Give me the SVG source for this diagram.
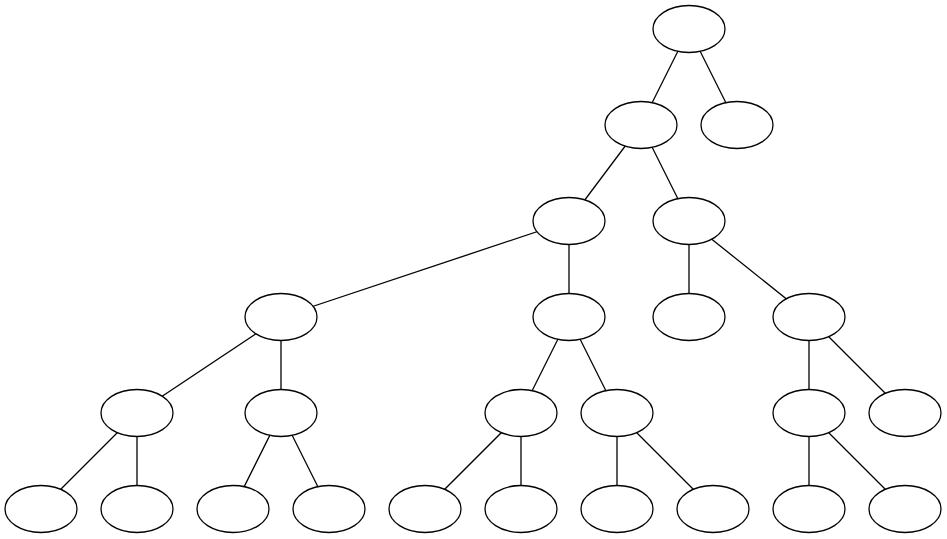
<svg xmlns="http://www.w3.org/2000/svg" width="947" height="539" viewBox="0 0 947 539">
<style>
.e{stroke:#000;stroke-width:1.3;fill:none}
.n{fill:#fff;stroke:#000;stroke-width:1.3}
</style>
<rect width="947" height="539" fill="#fff"/>
<g id="connectors">
<line class="e" x1="689" y1="29" x2="641" y2="125"/>
<line class="e" x1="689" y1="29" x2="737" y2="125"/>
<line class="e" x1="641" y1="125" x2="569" y2="221"/>
<line class="e" x1="641" y1="125" x2="689" y2="221"/>
<line class="e" x1="569" y1="221" x2="281" y2="317"/>
<line class="e" x1="569" y1="221" x2="569" y2="317"/>
<line class="e" x1="689" y1="221" x2="689" y2="317"/>
<line class="e" x1="689" y1="221" x2="809" y2="317"/>
<line class="e" x1="281" y1="317" x2="137" y2="413"/>
<line class="e" x1="281" y1="317" x2="281" y2="413"/>
<line class="e" x1="569" y1="317" x2="521" y2="413"/>
<line class="e" x1="569" y1="317" x2="617" y2="413"/>
<line class="e" x1="809" y1="317" x2="809" y2="413"/>
<line class="e" x1="809" y1="317" x2="905" y2="413"/>
<line class="e" x1="137" y1="413" x2="41" y2="509"/>
<line class="e" x1="137" y1="413" x2="137" y2="509"/>
<line class="e" x1="281" y1="413" x2="233" y2="509"/>
<line class="e" x1="281" y1="413" x2="329" y2="509"/>
<line class="e" x1="521" y1="413" x2="425" y2="509"/>
<line class="e" x1="521" y1="413" x2="521" y2="509"/>
<line class="e" x1="617" y1="413" x2="617" y2="509"/>
<line class="e" x1="617" y1="413" x2="713" y2="509"/>
<line class="e" x1="809" y1="413" x2="809" y2="509"/>
<line class="e" x1="809" y1="413" x2="905" y2="509"/>
</g>
<g id="n0"><ellipse class="n" cx="689" cy="29" rx="36" ry="23.5"/></g>
<g id="n1"><ellipse class="n" cx="641" cy="125" rx="36" ry="23.5"/></g>
<g id="n2"><ellipse class="n" cx="737" cy="125" rx="36" ry="23.5"/></g>
<g id="n3"><ellipse class="n" cx="569" cy="221" rx="36" ry="23.5"/></g>
<g id="n4"><ellipse class="n" cx="689" cy="221" rx="36" ry="23.5"/></g>
<g id="n5"><ellipse class="n" cx="281" cy="317" rx="36" ry="23.5"/></g>
<g id="n6"><ellipse class="n" cx="569" cy="317" rx="36" ry="23.5"/></g>
<g id="n7"><ellipse class="n" cx="689" cy="317" rx="36" ry="23.5"/></g>
<g id="n8"><ellipse class="n" cx="809" cy="317" rx="36" ry="23.5"/></g>
<g id="n9"><ellipse class="n" cx="137" cy="413" rx="36" ry="23.5"/></g>
<g id="n10"><ellipse class="n" cx="281" cy="413" rx="36" ry="23.5"/></g>
<g id="n11"><ellipse class="n" cx="521" cy="413" rx="36" ry="23.5"/></g>
<g id="n12"><ellipse class="n" cx="617" cy="413" rx="36" ry="23.5"/></g>
<g id="n13"><ellipse class="n" cx="809" cy="413" rx="36" ry="23.5"/></g>
<g id="n14"><ellipse class="n" cx="905" cy="413" rx="36" ry="23.5"/></g>
<g id="n15"><ellipse class="n" cx="41" cy="509" rx="36" ry="23.5"/></g>
<g id="n16"><ellipse class="n" cx="137" cy="509" rx="36" ry="23.5"/></g>
<g id="n17"><ellipse class="n" cx="233" cy="509" rx="36" ry="23.5"/></g>
<g id="n18"><ellipse class="n" cx="329" cy="509" rx="36" ry="23.5"/></g>
<g id="n19"><ellipse class="n" cx="425" cy="509" rx="36" ry="23.5"/></g>
<g id="n20"><ellipse class="n" cx="521" cy="509" rx="36" ry="23.5"/></g>
<g id="n21"><ellipse class="n" cx="617" cy="509" rx="36" ry="23.5"/></g>
<g id="n22"><ellipse class="n" cx="713" cy="509" rx="36" ry="23.5"/></g>
<g id="n23"><ellipse class="n" cx="809" cy="509" rx="36" ry="23.5"/></g>
<g id="n24"><ellipse class="n" cx="905" cy="509" rx="36" ry="23.5"/></g>
</svg>
